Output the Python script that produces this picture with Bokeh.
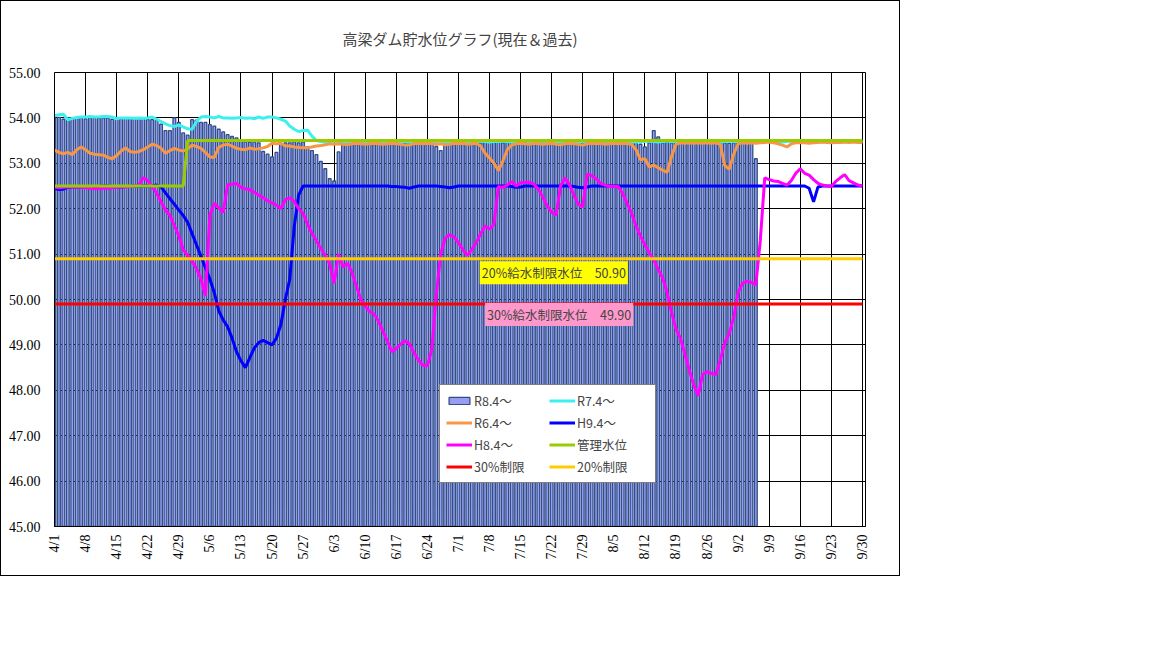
import math

from bokeh.embed import file_html
from bokeh.models import (FixedTicker, Label, Legend, LegendItem,
                          PrintfTickFormatter, Range1d)
from bokeh.plotting import figure
from bokeh.resources import INLINE

# ---- data ----
TITLE = "高梁ダム貯水位グラフ(現在＆過去)"
TICK_LABELS = ["4/1", "4/8", "4/15", "4/22", "4/29", "5/6", "5/13", "5/20", "5/27",
               "6/3", "6/10", "6/17", "6/24", "7/1", "7/8", "7/15", "7/22", "7/29",
               "8/5", "8/12", "8/19", "8/26", "9/2", "9/9", "9/16", "9/23", "9/30"]
N_DAYS = 183  # 4/1 .. 9/30

# R8.4～ (bars, 4/1 .. 9/6)
R8 = [54.00, 54.01, 53.97, 54.00, 53.99, 54.00, 54.00, 53.98, 54.00, 54.00,
      53.99, 54.00, 54.00, 53.97, 54.00, 53.98, 54.00, 54.00, 54.00, 53.99,
      54.00, 53.96, 53.96, 53.95, 53.86, 53.72, 53.72, 54.00, 53.90, 53.67,
      53.62, 53.96, 53.95, 53.90, 53.90, 53.85, 53.82, 53.75, 53.69, 53.63,
      53.59, 53.56, 53.50, 53.47, 53.46, 53.47, 53.45, 53.26, 53.20, 53.14,
      53.24, 53.42, 53.45, 53.45, 53.48, 53.45, 53.47, 53.36, 53.28, 53.19,
      53.04, 52.88, 52.66, 52.61, 53.25, 53.42, 53.46, 53.47, 53.46, 53.45,
      53.46, 53.47, 53.46, 53.46, 53.45, 53.46, 53.47, 53.46, 53.46, 53.45,
      53.46, 53.47, 53.46, 53.45, 53.46, 53.46, 53.37, 53.28, 53.46, 53.47,
      53.46, 53.45, 53.46, 53.47, 53.46, 53.46, 53.45, 53.46, 53.47, 53.46,
      53.46, 53.45, 53.46, 53.47, 53.46, 53.45, 53.46, 53.46, 53.47, 53.46,
      53.45, 53.46, 53.47, 53.46, 53.46, 53.45, 53.46, 53.47, 53.46, 53.45,
      53.46, 53.46, 53.47, 53.46, 53.45, 53.46, 53.47, 53.46, 53.46, 53.45,
      53.46, 53.46, 53.42, 53.36, 53.45, 53.72, 53.58, 53.45, 53.46, 53.45,
      53.46, 53.45, 53.46, 53.45, 53.44, 53.45, 53.46, 53.45, 53.44, 53.45,
      53.46, 53.45, 53.44, 53.45, 53.46, 53.45, 53.44, 53.45, 53.10]

# R7.4～
R7 = [54.05, 54.07, 54.08, 53.96, 53.99, 54.01, 54.02, 54.02, 54.03, 54.02,
      54.02, 54.03, 54.03, 54.02, 53.98, 54.00, 54.00, 54.00, 53.99, 54.00,
      53.99, 54.00, 54.02, 53.97, 53.92, 53.87, 53.83, 53.81, 53.84, 53.80,
      53.76, 53.75, 53.92, 54.02, 54.03, 54.02, 54.00, 54.03, 54.00, 54.00,
      53.99, 54.00, 54.01, 53.99, 54.00, 53.98, 54.02, 53.99, 54.02, 54.02,
      54.00, 53.97, 53.93, 53.82, 53.75, 53.70, 53.72, 53.73, 53.60, 53.50,
      53.48, 53.47, 53.48, 53.49, 53.48, 53.47, 53.48, 53.48, 53.49, 53.48,
      53.47, 53.48, 53.48, 53.49, 53.48, 53.47, 53.48, 53.49, 53.48, 53.48,
      53.47, 53.48, 53.49, 53.48, 53.47, 53.48, 53.48, 53.49, 53.48, 53.47,
      53.48, 53.49, 53.48, 53.48, 53.47, 53.48, 53.49, 53.48, 53.47, 53.48,
      53.48, 53.49, 53.48, 53.47, 53.48, 53.48, 53.49, 53.48, 53.47, 53.48,
      53.49, 53.48, 53.48, 53.47, 53.48, 53.49, 53.48, 53.47, 53.48, 53.48,
      53.49, 53.48, 53.47, 53.48, 53.49, 53.48, 53.48, 53.47, 53.48, 53.49,
      53.48, 53.47, 53.48, 53.48, 53.49, 53.48, 53.47, 53.48, 53.49, 53.48,
      53.48, 53.47, 53.48, 53.49, 53.48, 53.47, 53.48, 53.48, 53.49, 53.48,
      53.47, 53.48, 53.49, 53.48, 53.48, 53.47, 53.48, 53.49, 53.48, 53.47,
      53.48, 53.48, 53.49, 53.48, 53.47, 53.48, 53.49, 53.48, 53.48, 53.47,
      53.48, 53.49, 53.48, 53.47, 53.48, 53.48, 53.49, 53.48, 53.47, 53.48,
      53.49, 53.48, 53.48]

# R6.4～
R6 = [53.29, 53.24, 53.21, 53.24, 53.19, 53.30, 53.36, 53.30, 53.22, 53.20,
      53.19, 53.18, 53.13, 53.10, 53.17, 53.27, 53.34, 53.26, 53.24, 53.26,
      53.30, 53.36, 53.42, 53.39, 53.33, 53.22, 53.28, 53.33, 53.29, 53.27,
      53.32, 53.40, 53.37, 53.33, 53.24, 53.14, 53.13, 53.35, 53.40, 53.42,
      53.38, 53.33, 53.31, 53.30, 53.34, 53.31, 53.32, 53.34, 53.37, 53.44,
      53.43, 53.44, 53.38, 53.38, 53.36, 53.35, 53.34, 53.34, 53.36, 53.38,
      53.39, 53.41, 53.43, 53.42, 53.43, 53.42, 53.41, 53.43, 53.44, 53.43,
      53.42, 53.43, 53.44, 53.43, 53.42, 53.43, 53.44, 53.43, 53.42, 53.40,
      53.41, 53.43, 53.44, 53.43, 53.44, 53.43, 53.42, 53.43, 53.41, 53.42,
      53.44, 53.43, 53.44, 53.42, 53.43, 53.44, 53.38, 53.22, 53.12, 53.00,
      52.84, 53.05, 53.30, 53.40, 53.43, 53.44, 53.43, 53.42, 53.44, 53.43,
      53.42, 53.43, 53.44, 53.42, 53.41, 53.43, 53.44, 53.43, 53.42, 53.40,
      53.43, 53.44, 53.43, 53.44, 53.42, 53.43, 53.44, 53.43, 53.44, 53.43,
      53.42, 53.30, 53.08, 53.10, 52.92, 52.96, 52.90, 52.85, 52.80, 53.15,
      53.42, 53.45, 53.44, 53.45, 53.44, 53.45, 53.44, 53.45, 53.44, 53.45,
      53.42, 52.95, 52.87, 53.20, 53.43, 53.45, 53.44, 53.45, 53.44, 53.45,
      53.46, 53.47, 53.45, 53.43, 53.40, 53.36, 53.43, 53.45, 53.46, 53.45,
      53.44, 53.45, 53.46, 53.47, 53.46, 53.45, 53.46, 53.46, 53.47, 53.46,
      53.47, 53.46, 53.46]

# H9.4～
H9 = [52.45, 52.42, 52.43, 52.47, 52.48, 52.48, 52.48, 52.47, 52.48, 52.48,
      52.49, 52.50, 52.50, 52.49, 52.48, 52.48, 52.49, 52.49, 52.50, 52.50,
      52.50, 52.50, 52.50, 52.52, 52.48, 52.35, 52.22, 52.10, 51.97, 51.85,
      51.70, 51.45, 51.20, 50.95, 50.70, 50.45, 50.15, 49.75, 49.55, 49.40,
      49.15, 48.85, 48.65, 48.50, 48.72, 48.93, 49.05, 49.10, 49.05, 49.00,
      49.15, 49.45, 50.00, 50.45, 51.60, 52.30, 52.50, 52.50, 52.50, 52.50,
      52.50, 52.50, 52.50, 52.50, 52.50, 52.50, 52.50, 52.50, 52.50, 52.50,
      52.50, 52.50, 52.50, 52.50, 52.50, 52.50, 52.49, 52.49, 52.48, 52.47,
      52.45, 52.48, 52.50, 52.50, 52.50, 52.50, 52.50, 52.49, 52.48, 52.46,
      52.48, 52.50, 52.50, 52.50, 52.50, 52.50, 52.50, 52.50, 52.50, 52.50,
      52.50, 52.50, 52.50, 52.49, 52.47, 52.48, 52.50, 52.50, 52.50, 52.50,
      52.50, 52.50, 52.50, 52.50, 52.50, 52.50, 52.50, 52.49, 52.47, 52.46,
      52.48, 52.50, 52.50, 52.50, 52.50, 52.50, 52.50, 52.50, 52.50, 52.50,
      52.50, 52.50, 52.50, 52.50, 52.50, 52.50, 52.50, 52.50, 52.50, 52.50,
      52.50, 52.50, 52.50, 52.50, 52.50, 52.50, 52.50, 52.50, 52.50, 52.50,
      52.50, 52.50, 52.50, 52.50, 52.50, 52.50, 52.50, 52.50, 52.50, 52.50,
      52.50, 52.50, 52.50, 52.50, 52.50, 52.50, 52.50, 52.50, 52.50, 52.50,
      52.45, 52.15, 52.48, 52.50, 52.50, 52.50, 52.50, 52.50, 52.50, 52.50,
      52.50, 52.50, 52.50]

# H8.4～
H8 = [52.47, 52.46, 52.47, 52.48, 52.48, 52.48, 52.47, 52.46, 52.45, 52.44,
      52.44, 52.45, 52.45, 52.46, 52.47, 52.48, 52.48, 52.49, 52.50, 52.52,
      52.68, 52.62, 52.48, 52.35, 52.15, 51.97, 51.85, 51.63, 51.40, 51.10,
      50.97, 50.84, 50.68, 50.45, 50.08, 51.85, 52.12, 52.02, 51.92, 52.53,
      52.54, 52.56, 52.47, 52.44, 52.42, 52.36, 52.30, 52.25, 52.17, 52.13,
      52.08, 52.00, 52.20, 52.24, 52.16, 52.00, 51.90, 51.66, 51.45, 51.30,
      51.12, 50.98, 50.78, 50.36, 51.00, 50.72, 50.80, 50.60, 50.30, 50.00,
      49.85, 49.73, 49.68, 49.52, 49.30, 49.08, 48.85, 48.92, 49.02, 49.09,
      49.02, 48.82, 48.66, 48.55, 48.54, 48.90, 50.10, 51.00, 51.35, 51.43,
      51.38, 51.25, 51.10, 50.97, 51.10, 51.25, 51.45, 51.62, 51.55, 51.66,
      52.49, 52.47, 52.52, 52.60, 52.50, 52.57, 52.58, 52.58, 52.54, 52.43,
      52.26, 52.06, 51.92, 51.86, 52.50, 52.68, 52.53, 52.30, 52.10, 52.04,
      52.76, 52.73, 52.66, 52.56, 52.52, 52.49, 52.49, 52.49, 52.33, 52.12,
      51.90, 51.62, 51.40, 51.20, 51.03, 50.88, 50.66, 50.48, 50.15, 49.72,
      49.35, 49.15, 48.80, 48.45, 48.12, 47.88, 48.35, 48.41, 48.37, 48.35,
      48.67, 49.05, 49.25, 49.60, 50.15, 50.36, 50.40, 50.38, 50.32, 51.30,
      52.68, 52.64, 52.61, 52.60, 52.56, 52.52, 52.62, 52.78, 52.88, 52.78,
      52.74, 52.64, 52.56, 52.52, 52.50, 52.49, 52.60, 52.68, 52.75, 52.62,
      52.57, 52.52, 52.50]

# 管理水位 (52.50 until 4/30, 53.50 from 5/1)
KANRI = [52.50] * 30 + [53.50] * 153
LIMIT_30 = 49.90
LIMIT_20 = 50.90

days = list(range(N_DAYS))
tick_pos = [7 * i for i in range(len(TICK_LABELS))]

JP = "Noto Sans CJK JP"
NUM = "Liberation Serif"

# top border is left to the title panel (its standoff sets the gap)
p = figure(width=900, height=576, title=TITLE,
           x_range=Range1d(0, 182.7), y_range=Range1d(45, 55),
           output_backend="svg", toolbar_location=None,
           min_border_left=53, min_border_right=36,
           min_border_top=0, min_border_bottom=51)
p.styles = {"border": "1px solid black"}
p.background_fill_color = "white"
p.border_fill_color = "white"
p.outline_line_color = "black"
p.outline_line_width = 1

p.title.text_font = JP
p.title.text_font_size = "15px"
p.title.text_font_style = "normal"
p.title.align = "center"
p.title.standoff = 48

# axes
p.xaxis.ticker = FixedTicker(ticks=tick_pos)
p.xaxis.major_label_overrides = {t: lab for t, lab in zip(tick_pos, TICK_LABELS)}
p.xaxis.major_label_orientation = math.pi / 2
p.yaxis.ticker = FixedTicker(ticks=list(range(45, 56)))
p.yaxis.formatter = PrintfTickFormatter(format="%.2f")
for ax in (p.xaxis, p.yaxis):
    ax.axis_line_color = "black"
    ax.major_tick_out = 0
    ax.major_tick_in = 0
    ax.minor_tick_out = 0
    ax.minor_tick_in = 0
    ax.major_label_text_font = NUM
    ax.major_label_text_font_size = "14px"
    ax.major_label_text_color = "black"
p.xaxis.major_label_standoff = 8
p.yaxis.major_label_standoff = 14

p.xgrid.ticker = FixedTicker(ticks=tick_pos)
p.ygrid.ticker = FixedTicker(ticks=list(range(45, 56)))
for g in (p.xgrid, p.ygrid):
    g.grid_line_color = "black"
    g.grid_line_alpha = 1
    g.grid_line_width = 1

# series
r_bar = p.vbar(x=days[:len(R8)], top=R8, bottom=45, width=0.62,
               fill_color="#9a9cf2", line_color="#2f4f88", line_width=1.3)
r_r7 = p.line(days, R7, line_color="#3cf0f0", line_width=3)
r_r6 = p.line(days, R6, line_color="#f79646", line_width=3)
r_h9 = p.line(days, H9, line_color="#0000ff", line_width=3)
r_h8 = p.line(days, H8, line_color="#ff00ff", line_width=3)
r_kanri = p.line(days, KANRI, line_color="#99cc00", line_width=3)
r_30 = p.line(days, [LIMIT_30] * N_DAYS, line_color="#ff0000", line_width=3)
r_20 = p.line(days, [LIMIT_20] * N_DAYS, line_color="#ffcc00", line_width=3)

# limit labels
lab20 = Label(x=95.8, y=50.59, text=f"20%給水制限水位　{LIMIT_20:.2f}",
              text_font=JP, text_font_size="12.5px", text_baseline="middle",
              background_fill_color="#ffff00", padding=2)
lab30 = Label(x=97.0, y=49.67, text=f"30%給水制限水位　{LIMIT_30:.2f}",
              text_font=JP, text_font_size="12.5px", text_baseline="middle",
              background_fill_color="#ff99cc", padding=2)
p.add_layout(lab20)
p.add_layout(lab30)

# legend fills column by column: left column first, then right column
legend = Legend(items=[
    LegendItem(label="R8.4～", renderers=[r_bar]),
    LegendItem(label="R6.4～", renderers=[r_r6]),
    LegendItem(label="H8.4～", renderers=[r_h8]),
    LegendItem(label="30%制限", renderers=[r_30]),
    LegendItem(label="R7.4～", renderers=[r_r7]),
    LegendItem(label="H9.4～", renderers=[r_h9]),
    LegendItem(label="管理水位", renderers=[r_kanri]),
    LegendItem(label="20%制限", renderers=[r_20]),
], ncols=2, location=(385, 43))
legend.border_line_color = "black"
legend.border_line_width = 1
legend.background_fill_color = "white"
legend.background_fill_alpha = 1
legend.label_text_font = JP
legend.label_text_font_size = "12.5px"
legend.glyph_width = 26
legend.glyph_height = 9
legend.label_standoff = 2
legend.label_height = 16
legend.label_width = 72
legend.spacing = 3
legend.padding = 6
legend.margin = 0
p.add_layout(legend)

open("out.html", "w").write(file_html(p, INLINE))
